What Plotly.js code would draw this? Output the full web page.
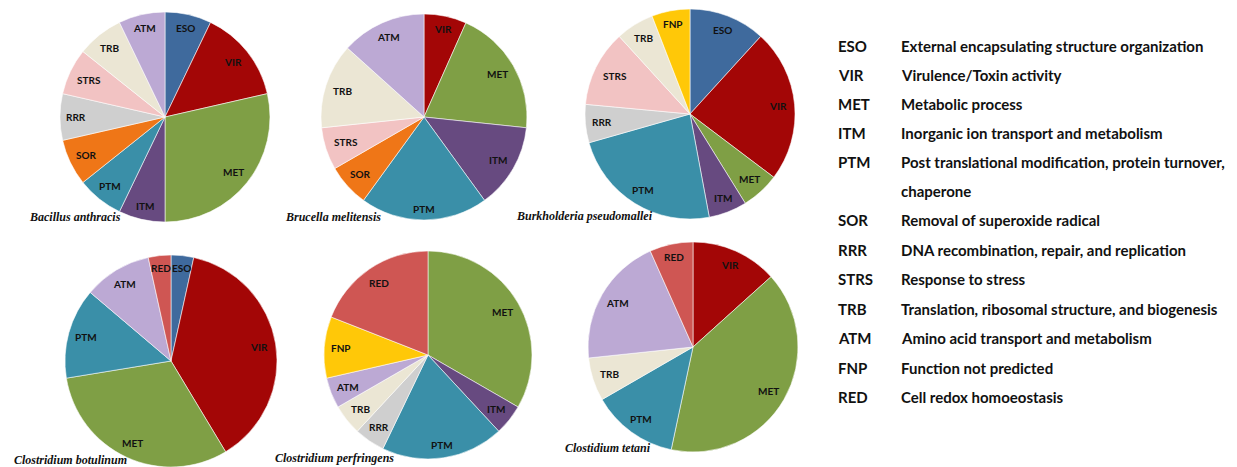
<!DOCTYPE html>
<html>
<head>
<meta charset="utf-8">
<script src="https://cdn.plot.ly/plotly-3.0.1.min.js"></script>
<style>html,body{margin:0;padding:0;background:#fff;}#chart{width:1237px;height:467px;}</style>
</head>
<body>
<div id="chart"></div>
<script>
// Category codes (draw order, clockwise from 12 o'clock)
const codes = ["ESO","VIR","MET","ITM","PTM","SOR","RRR","STRS","TRB","ATM","FNP","RED"];
const descriptions = [
  "External encapsulating structure organization",
  "Virulence/Toxin activity",
  "Metabolic process",
  "Inorganic ion transport and metabolism",
  "Post translational modification, protein turnover,",
  "Removal of superoxide radical",
  "DNA recombination, repair, and replication",
  "Response to stress",
  "Translation, ribosomal structure, and biogenesis",
  "Amino acid transport and metabolism",
  "Function not predicted",
  "Cell redox homoeostasis"
];
const descriptionContinuation = "chaperone";
const colors = {
  ESO:"#3f6a9d", VIR:"#a30606", MET:"#7f9f45", ITM:"#674a80", PTM:"#3a8fa8",
  SOR:"#ef7617", RRR:"#cfcfcf", STRS:"#f2c3c3", TRB:"#ebe6d4", ATM:"#bca9d4",
  FNP:"#ffc808", RED:"#cf5653"
};

// Organisms
const organisms = ["Bacillus anthracis","Brucella melitensis","Burkholderia pseudomallei",
                   "Clostridium botulinum","Clostridium perfringens","Clostidium tetani"];

// Protein counts per category (order: ESO,VIR,MET,ITM,PTM,SOR,RRR,STRS,TRB,ATM,FNP,RED)
const bacillusAnthracis      = [1, 2, 4, 1, 1, 1, 1, 1, 1, 1, 0, 0];
const brucellaMelitensis     = [0, 1, 3, 2, 3, 1, 0, 1, 2, 2, 0, 0];
const burkholderiaPseudo     = [2, 4, 1, 1, 4, 0, 1, 2, 1, 0, 1, 0];
const clostridiumBotulinum   = [1, 11, 9, 0, 4, 0, 0, 0, 0, 3, 0, 1];
const clostridiumPerfringens = [0, 0, 7, 1, 4, 0, 1, 0, 1, 1, 2, 4];
const clostridiumTetani      = [0, 2, 6, 0, 2, 0, 0, 0, 1, 3, 0, 1];
const seriesValues = [bacillusAnthracis, brucellaMelitensis, burkholderiaPseudo,
                      clostridiumBotulinum, clostridiumPerfringens, clostridiumTetani];

// Layout geometry (pixels in a 1237x467 page)
const W = 1237, H = 467;
const pieCenters = [[165,117],[424,117],[690,114],[171,361],[428,355],[693,347]];
const pieRadii   = [105,103,105,106,104,105];
const titlePos   = [[27,217],[283,217],[514,216],[12,460],[273,458],[563,448]];
const labelFont  = {family: "Lato, 'Open Sans', sans-serif", size: 10, color: "#111", weight: 700};

const data = [];
const annotations = [];
const px = (x) => x / W, py = (y) => (H - y) / H;

seriesValues.forEach((vals, i) => {
  const labs = [], v = [], c = [];
  vals.forEach((n, k) => { if (n > 0) { labs.push(codes[k]); v.push(n); c.push(colors[codes[k]]); } });
  const [cx, cy] = pieCenters[i], r = pieRadii[i];
  data.push({
    type: "pie", labels: labs, values: v, sort: false, direction: "clockwise", rotation: 0,
    marker: {colors: c, line: {color: "rgba(255,255,255,0.7)", width: 0.8}},
    textinfo: "none",
    hoverinfo: "label+value+percent", showlegend: false,
    domain: {x: [px(cx - r), px(cx + r)], y: [py(cy + r), py(cy - r)]}
  });
  // "Inside end" slice labels, placed on each slice's bisector from the values
  const total = v.reduce((a, b) => a + b, 0);
  let cum = 0;
  v.forEach((n, j) => {
    const mid = (cum + n / 2) / total * 2 * Math.PI;
    cum += n;
    const halfW = labs[j].length * 3.4 + 1, halfH = 6;
    const s = Math.sin(mid), co = Math.cos(mid);
    const d = r - 5 - (Math.abs(s) * halfW + Math.abs(co) * halfH);
    annotations.push({
      text: labs[j], xref: "paper", yref: "paper",
      x: px(cx + d * s), y: py(cy - d * co), xanchor: "center", yanchor: "middle",
      showarrow: false, font: labelFont
    });
  });
  annotations.push({
    text: "<b><i>" + organisms[i] + "</i></b>", xref: "paper", yref: "paper",
    x: px(titlePos[i][0]), y: py(titlePos[i][1]), xanchor: "left", yanchor: "middle",
    showarrow: false, font: {family: "'Liberation Serif', 'Times New Roman', serif", size: 12, color: "#111"}
  });
});

// Legend (text key on the right)
const keyRowsY = [46, 75, 104, 133, 162, 220, 250, 279, 309, 338, 368, 397];
const keyFont = {family: "Lato, sans-serif", size: 15, color: "#111"};
codes.forEach((code, k) => {
  annotations.push({text: "<b>" + code + "</b>", xref: "paper", yref: "paper", x: px(836), y: py(keyRowsY[k]),
    xanchor: "left", yanchor: "middle", showarrow: false, font: keyFont});
  annotations.push({text: "<b>" + descriptions[k] + "</b>", xref: "paper", yref: "paper", x: px(899),
    y: py(keyRowsY[k]), xanchor: "left", yanchor: "middle", showarrow: false, font: keyFont});
});
annotations.push({text: "<b>" + descriptionContinuation + "</b>", xref: "paper", yref: "paper", x: px(899),
  y: py(191), xanchor: "left", yanchor: "middle", showarrow: false, font: keyFont});

Plotly.newPlot("chart", data, {
  width: W, height: H, margin: {l: 0, r: 0, t: 0, b: 0},
  paper_bgcolor: "#fff", annotations: annotations
}, {displayModeBar: false, staticPlot: true});
</script>
</body>
</html>
